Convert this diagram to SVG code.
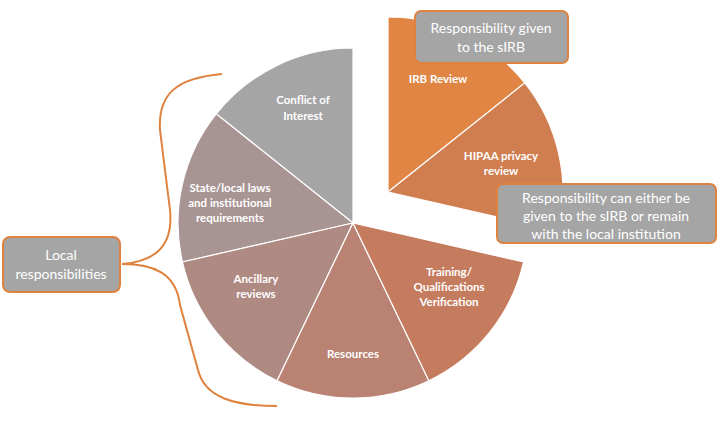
<svg xmlns="http://www.w3.org/2000/svg" width="724" height="430" viewBox="0 0 724 430">
<style>
.sl{stroke:#fff;stroke-width:1.2}
.lb{font-family:Lato,"Open Sans",sans-serif;font-weight:bold;font-size:11.5px;fill:#fff;text-anchor:middle}
.bx{fill:#A5A5A5;stroke:#E0823F;stroke-width:2}
.bt{font-family:Lato,"Open Sans",sans-serif;font-size:14px;fill:#fff;text-anchor:middle}
</style>
<rect width="724" height="430" fill="#fff"/>
<g id="conflict"><path class="sl" fill="#A5A5A5" d="M353,223 L353,48 A175,175 0 0 0 216.2,113.9 Z"/><text class="lb" x="303" y="104">Conflict of</text><text class="lb" x="303" y="120">Interest</text></g>
<g id="state"><path class="sl" fill="#A89493" d="M353,223 L216.2,113.9 A175,175 0 0 0 182.4,262 Z"/><text class="lb" x="230" y="192">State/local laws</text><text class="lb" x="230" y="207">and institutional</text><text class="lb" x="230" y="222">requirements</text></g>
<g id="ancillary"><path class="sl" fill="#AF8A82" d="M353,223 L182.4,262 A175,175 0 0 0 277.1,380.7 Z"/><text class="lb" x="256" y="283">Ancillary</text><text class="lb" x="256" y="298">reviews</text></g>
<g id="resources"><path class="sl" fill="#BA8272" d="M353,223 L277.1,380.7 A175,175 0 0 0 428.9,380.7 Z"/><text class="lb" x="353" y="358">Resources</text></g>
<g id="training"><path class="sl" fill="#C57C5E" d="M353,223 L428.9,380.7 A175,175 0 0 0 523.6,262 Z"/><text class="lb" x="449" y="276">Training/</text><text class="lb" x="449" y="291">Qualifications</text><text class="lb" x="449" y="306">Verification</text></g>
<g id="irb"><path class="sl" fill="#E08544" d="M388,192 L388,17 A175,175 0 0 1 524.8,82.9 Z"/><text class="lb" x="438" y="83">IRB Review</text></g>
<g id="hipaa"><path class="sl" fill="#D07E50" d="M388,192 L524.8,82.9 A175,175 0 0 1 558.6,231 Z"/><text class="lb" x="501" y="160">HIPAA privacy</text><text class="lb" x="501" y="175">review</text></g>
<g id="connectors"><path d="M222,74 C175,78 158,95 160,130 L170,210 C174,250 150,262 122,264 C152,264 176,272 180,305 L198,370 C205,398 235,406 277,406" fill="none" stroke="#E0823F" stroke-width="2"/></g>
<g id="sirb"><rect class="bx" x="415" y="11" width="153" height="52" rx="6"/><text class="bt" x="491" y="33">Responsibility given</text><text class="bt" x="491" y="52">to the sIRB</text></g>
<g id="either"><rect class="bx" x="497" y="184" width="219" height="59" rx="6"/><text class="bt" x="606" y="203">Responsibility can either be</text><text class="bt" x="606" y="221">given to the sIRB or remain</text><text class="bt" x="606" y="239">with the local institution</text></g>
<g id="local"><rect class="bx" x="3" y="237" width="117" height="55" rx="7"/><text class="bt" x="61" y="260">Local</text><text class="bt" x="61" y="279">responsibilities</text></g>
</svg>
